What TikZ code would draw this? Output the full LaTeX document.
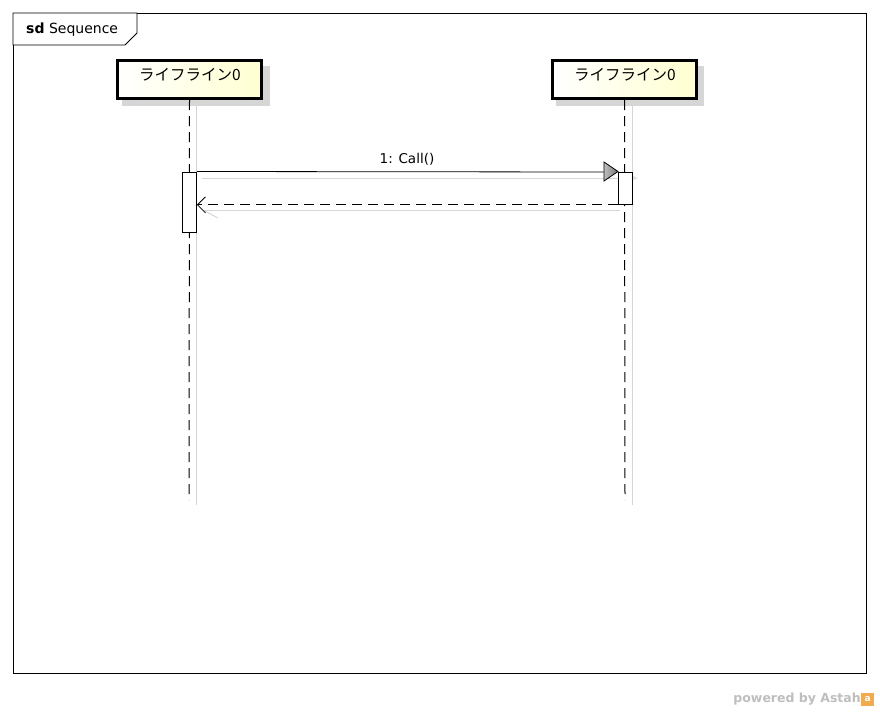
\documentclass[tikz,border=0pt]{standalone}
\usepackage{fontspec}
\setmainfont{DejaVu Sans}
\newfontfamily\jpfont{Noto Sans CJK JP}
\usetikzlibrary{arrows.meta}
\definecolor{shadowgray}{RGB}{214,214,214}
\definecolor{astahgray}{RGB}{190,190,190}
\definecolor{astahorange}{RGB}{240,170,80}
\begin{document}
\begin{tikzpicture}[x=1pt,y=-1pt,
  lifebox/.style={draw=black,line width=3pt,minimum width=144pt,minimum height=38pt,inner sep=0pt,
     left color=white,right color=yellow!18},
  lifetext/.style={font=\jpfont\fontsize{15.5}{17}\selectfont,inner sep=0pt},
  lifeshadow/.style={fill=shadowgray,draw=none,minimum width=148pt,minimum height=40pt,inner sep=0pt},
  lifeline/.style={draw=black,line width=1pt,dash pattern=on 10pt off 6pt},
  lifelineshadow/.style={draw=shadowgray,line width=1pt},
  actbox/.style={draw=black,fill=white,line width=0.8pt,minimum width=14pt,inner sep=0pt},
  msg/.style={draw=black,line width=0.8pt},
  msgshadow/.style={draw=shadowgray,line width=1pt},
  lbl/.style={font=\fontsize{13.5}{15}\selectfont}
]
\useasboundingbox (0,0) rectangle (880,712);
% frame
\draw[line width=0.8pt] (13,13) rectangle (866,673);
\draw[line width=0.8pt,fill=white] (13,13) -- (137,13) -- (137,33) -- (125,45) -- (13,45) -- cycle;
\node[anchor=west,font=\fontsize{14}{16}\selectfont,inner sep=0pt] (title) at (26,30) {\textbf{sd} Sequence};
% lifeline shadows
\node[lifeshadow] (s1) at (196,86) {};
\node[lifeshadow] (s2) at (630,86) {};
\draw[lifelineshadow] (196,106) -- (196,505);
\draw[lifelineshadow] (632,106) -- (632,505);
% lifelines
\node[lifebox] (L1) at (189.5,79.5) {};
\node[lifebox] (L2) at (624.5,79.5) {};
\node[lifetext] (t1) at (190,75) {ライフライン0};
\node[lifetext] (t2) at (625,75) {ライフライン0};
\coordinate (e1) at (189,500);
\coordinate (e2) at (625,500);
\draw[lifeline] (L1.south) -- (e1);
\draw[lifeline] (L2.south) -- (e2);
% message shadows
\coordinate (ms1) at (202,178);
\coordinate (ms2) at (622,178);
\draw[msgshadow] (ms1) -- (ms2);
\fill[shadowgray!70] (622,171) -- (638,178) -- (622,185) -- cycle;
\coordinate (rs1) at (620,210);
\coordinate (rs2) at (203,210);
\draw[msgshadow] (rs1) -- (rs2);
\draw[msgshadow] (203,210) -- (218,218);
% activation boxes
\node[actbox,minimum height=60pt,anchor=north] (A1) at (189.5,171.5) {};
\node[actbox,minimum height=32pt,anchor=north] (A2) at (625,172) {};
% call message
\draw[msg] (A1.north east) -- ([xshift=-14pt]A2.north west);
\shade[left color=gray!50,right color=gray!90!black,draw=black,line width=0.8pt]
  (604,162) -- (618,171.5) -- (604,181) -- cycle;
\node[lbl] (m1) at (407,159) {1: Call()};
% return message
\draw[msg,dash pattern=on 10pt off 6pt,-{Straight Barb[length=8pt,width=16pt,line width=0.8pt]}] (A2.south west) -- (A1.east |- A2.south west);
% footer
\node[anchor=east,font=\bfseries\fontsize{12.5}{14}\selectfont,text=astahgray,inner sep=0pt] (pw) at (861,699) {powered by Astah};
\node[fill=astahorange,minimum size=13pt,inner sep=0pt,anchor=west,font=\bfseries\fontsize{9}{9}\selectfont,text=white] (logo) at (pw.east) {a};
\end{tikzpicture}
\end{document}
